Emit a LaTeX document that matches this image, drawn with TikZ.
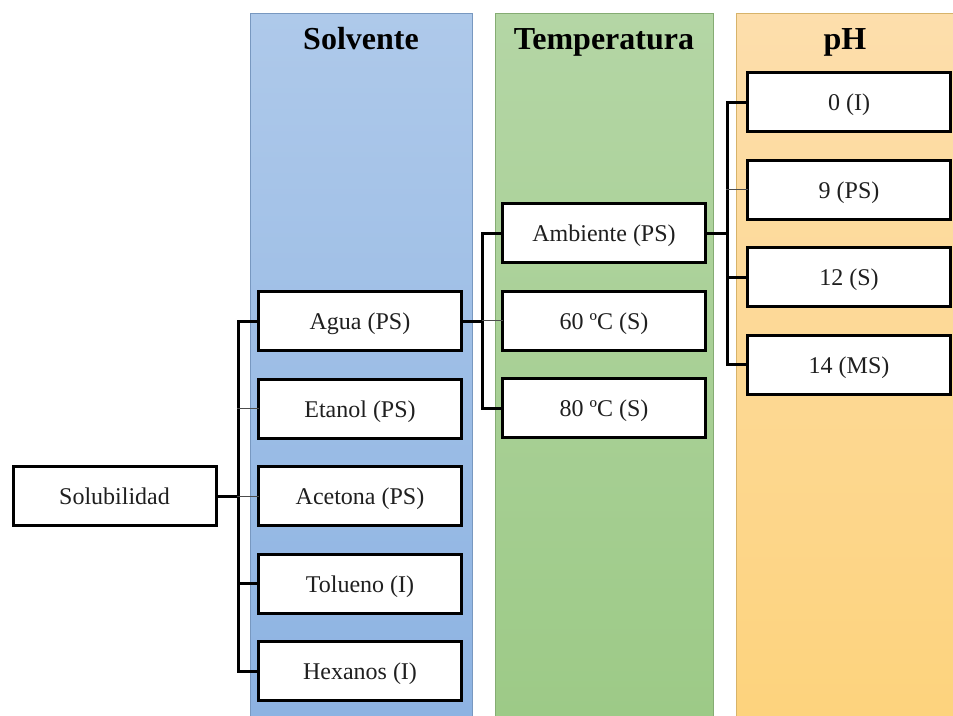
\documentclass[tikz,border=0pt]{standalone}
\usepackage{fontspec}
\setmainfont{Liberation Serif}
\usetikzlibrary{positioning}

\definecolor{solvtop}{HTML}{AEC9EA}
\definecolor{solvbot}{HTML}{8DB3E2}
\definecolor{temptop}{HTML}{B4D6A5}
\definecolor{tempbot}{HTML}{9DCA87}
\definecolor{phtop}{HTML}{FDDEAC}
\definecolor{phbot}{HTML}{FDD37D}

\tikzset{
  box/.style={draw, line width=3pt, fill=white, minimum width=203pt,
    minimum height=59pt, outer sep=0pt, inner sep=2pt,
    text height=17.5pt, text depth=0pt,
    font=\fontsize{24}{28}\selectfont, text=black!88},
  conn/.style={line width=3pt},
  stub/.style={line width=0.8pt, black!70},
  title/.style={font=\bfseries\fontsize{32}{36}\selectfont, anchor=base},
}

\begin{document}
\begin{tikzpicture}[x=1pt, y=-1pt, node distance=28.5pt]
  \useasboundingbox (0,0) rectangle (953,715);

  % Draw the three columns
  \shade[top color=solvtop, bottom color=solvbot, draw=solvbot!85!black, line width=0.6pt]
    (250,13) rectangle (472,716);
  \shade[top color=temptop, bottom color=tempbot, draw=tempbot!85!black, line width=0.6pt]
    (495,13) rectangle (713,716);
  \shade[top color=phtop, bottom color=phbot, draw=phbot!85!black, line width=0.6pt]
    (736,13) rectangle (956,716);

  % Column titles
  \node[title] (tsolv) at (361,49) {Solvente};
  \node[title] (ttemp) at (604,49) {Temperatura};
  \node[title] (tph) at (845,49) {pH};

  % Root
  \node[box] (sol) at (114.5,496) {Solubilidad};

  % Solvents
  \node[box] (agua) at (360,321) {Agua (PS)};
  \node[box, below=of agua] (etanol) {Etanol (PS)};
  \node[box, below=of etanol] (acetona) {Acetona (PS)};
  \node[box, below=of acetona] (tolueno) {Tolueno (I)};
  \node[box, below=of tolueno] (hexanos) {Hexanos (I)};

  % Temperatures
  \node[box] (amb) at (604,233) {Ambiente (PS)};
  \node[box, below=of amb] (t60) {60 ºC (S)};
  \node[box, below=of t60] (t80) {80 ºC (S)};

  % pH values
  \node[box] (ph0) at (849,102) {0 (I)};
  \node[box, below=of ph0] (ph9) {9 (PS)};
  \node[box, below=of ph9] (ph12) {12 (S)};
  \node[box, below=of ph12] (ph14) {14 (MS)};

  % Draw connectors
  \draw[conn] (sol.east) -- ++(22,0) |- (agua.west);
  \draw[conn] (sol.east) -- ++(22,0) |- (hexanos.west);
  \draw[conn] (tolueno.west) -- ++(-22,0);
  \draw[stub] (etanol.west) -- ++(-22,0);
  \draw[stub] (acetona.west) -- ++(-22,0);

  \draw[conn] (agua.east) -- ++(20.5,0) |- (amb.west);
  \draw[conn] (agua.east) -- ++(20.5,0) |- (t80.west);
  \draw[stub] (t60.west) -- ++(-20.5,0);

  \draw[conn] (amb.east) -- ++(21.5,0) |- (ph0.west);
  \draw[conn] (amb.east) -- ++(21.5,0) |- (ph14.west);
  \draw[conn] (ph12.west) -- ++(-21.5,0);
  \draw[stub] (ph9.west) -- ++(-21.5,0);
\end{tikzpicture}
\end{document}
